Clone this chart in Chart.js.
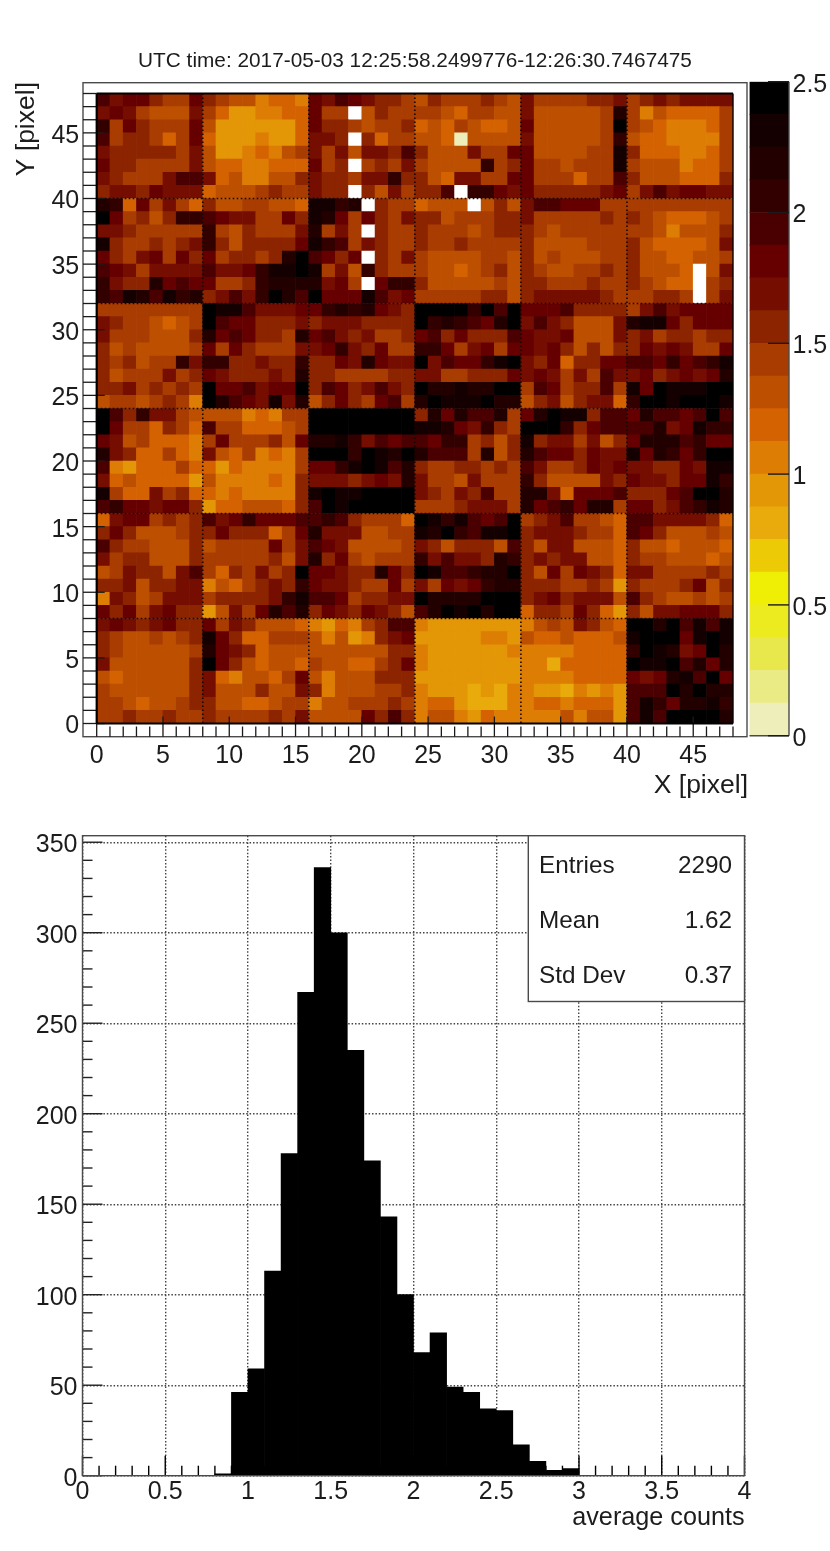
<!DOCTYPE html>
<html>
<head>
<meta charset="utf-8">
<title>Average counts map</title>
<script src="https://cdn.jsdelivr.net/npm/chart.js@4/dist/chart.umd.min.js"></script>
<style>
  html, body { margin: 0; padding: 0; background: #fff; }
  #page { position: relative; width: 830px; height: 1551px; overflow: hidden; filter: blur(0.45px); }
  canvas { position: absolute; left: 0; }
</style>
</head>
<body>
<div id="page">
  <canvas id="heat" width="830" height="812" style="top:0"></canvas>
  <canvas id="bar" width="830" height="812" style="top:0"></canvas>
  <canvas id="hist" width="830" height="761" style="top:790px"></canvas>
</div>
<script>
const titleText = "UTC time: 2017-05-03 12:25:58.2499776-12:26:30.7467475";

// map values, top row (Y = 47) first, one list per row; null = white cell
const mapRows = [
  [1.9,1.7,1.8,1.8,1.6,1.4,1.4,1.8, 1.6,1.4,1.3,1.3,1.1,1.2,1.2,1.1, 1.8,1.7,1.9,1.8,1.7,1.6,1.6,1.4, 1.3,1.6,1.4,1.4,1.4,1.6,1.4,1.3, 1.7,1.4,1.4,1.4,1.4,1.6,1.6,1.7, 1.4,1.6,1.7,1.6,1.7,1.7,1.7,1.7],
  [1.7,1.8,1.7,1.4,1.3,1.3,1.3,1.7, 1.4,1.2,0.9,0.9,1.1,1.1,1.2,1.2, 1.8,1.4,1.4,null,1.3,1.6,1.4,1.4, 1.4,1.4,1.3,1.2,1.4,1.4,1.3,1.3, 1.7,1.3,1.3,1.3,1.3,1.3,1.4,2.2, 1.4,1.1,1.3,1.2,1.2,1.2,1.2,1.4],
  [2.1,1.4,1.8,1.6,1.4,1.4,1.4,1.8, 1.3,0.9,0.9,0.9,0.9,0.9,0.9,1.2, 1.8,1.6,1.6,1.4,1.3,1.4,1.4,1.6, 1.2,1.3,1.2,1.4,1.3,1.2,1.2,1.3, 1.8,1.3,1.3,1.3,1.3,1.3,1.4,2.4, 1.4,1.3,1.2,1.1,1.1,1.1,1.2,1.4],
  [1.9,1.4,1.6,1.6,1.4,1.2,1.4,1.8, 1.2,0.9,0.9,0.9,1.1,0.9,0.9,1.2, 1.7,1.7,1.6,null,1.6,1.2,1.4,1.4, 1.3,1.3,1.2,0.1,1.3,1.3,1.3,1.3, 1.7,1.3,1.3,1.3,1.3,1.3,1.4,2.1, 1.3,1.2,1.2,1.1,1.1,1.1,1.1,1.4],
  [1.7,1.6,1.6,1.6,1.6,1.6,1.4,1.7, 1.3,0.9,0.9,1.1,1.2,1.1,1.3,1.4, 1.7,1.4,1.7,1.3,1.7,1.7,1.6,1.9, 1.6,1.3,1.3,1.3,1.7,1.4,1.4,1.8, 1.8,1.3,1.3,1.3,1.3,1.4,1.4,2.3, 1.6,1.2,1.2,1.2,1.1,1.1,1.2,1.4],
  [1.8,1.6,1.6,1.4,1.4,1.4,1.4,1.7, 1.3,1.2,1.2,1.1,1.1,1.2,1.2,1.2, 1.8,1.4,1.6,null,1.4,1.6,1.4,1.7, 1.4,1.3,1.3,1.3,1.3,2.1,1.4,1.6, 1.8,1.4,1.4,1.3,1.4,1.4,1.4,2.3, 1.4,1.3,1.3,1.3,1.1,1.2,1.2,1.4],
  [1.7,1.6,1.4,1.4,1.4,1.7,1.9,1.9, 1.7,1.2,1.3,1.1,1.1,1.3,1.3,1.6, 1.7,1.6,1.6,1.4,1.7,1.7,2.1,1.6, 1.6,1.3,1.2,1.7,1.7,1.4,1.4,1.8, 1.8,1.4,1.4,1.4,1.2,1.4,1.4,1.9, 1.6,1.3,1.3,1.3,1.2,1.2,1.2,1.6],
  [1.6,1.7,1.7,1.6,1.8,1.7,1.7,1.7, 1.2,1.3,1.3,1.3,1.4,1.6,1.4,1.4, 1.7,1.6,1.6,null,1.6,1.3,1.7,1.4, 1.6,1.6,1.9,null,2.1,2.1,1.8,1.7, 1.8,1.6,1.6,1.6,1.6,1.6,1.7,1.8, 1.4,1.7,1.9,1.7,1.8,1.8,1.7,1.7],
  [2.2,2.1,1.2,1.8,1.4,1.7,1.4,1.2, 1.6,1.3,1.3,1.4,1.4,1.3,1.3,1.2, 2.3,2.3,2.1,2.2,null,1.6,1.4,1.4, 1.2,1.3,1.3,1.3,null,1.3,1.6,1.3, 1.7,1.9,1.9,1.8,1.8,1.8,1.4,1.4, 1.4,1.4,1.4,1.4,1.4,1.4,1.4,1.4],
  [2.4,1.8,1.4,1.6,1.3,1.6,2.1,2.1, 1.9,1.8,1.7,1.7,1.4,1.4,1.8,1.6, 2.3,2.2,1.8,1.4,1.8,1.6,1.4,1.7, 1.6,1.6,1.3,1.4,1.4,1.4,1.6,1.6, 1.7,1.4,1.4,1.4,1.4,1.4,1.6,1.4, 1.6,1.4,1.3,1.2,1.2,1.2,1.3,1.4],
  [1.7,1.7,1.6,1.4,1.4,1.4,1.4,1.4, 2.1,1.4,1.3,1.6,1.4,1.4,1.4,1.7, 2.2,1.4,1.7,1.4,null,1.6,1.4,1.4, 1.6,1.4,1.4,1.4,1.3,1.4,1.6,1.6, 1.6,1.4,1.3,1.4,1.4,1.4,1.4,1.4, 1.4,1.4,1.3,1.1,1.3,1.3,1.3,1.6],
  [2.3,1.6,1.4,1.4,1.6,1.4,1.6,1.7, 2.1,1.6,1.3,1.6,1.6,1.6,1.6,1.8, 2.3,2.1,1.9,1.4,1.7,1.6,1.4,1.4, 1.6,1.4,1.4,1.6,1.4,1.4,1.4,1.4, 1.6,1.3,1.3,1.3,1.3,1.4,1.4,1.4, 1.6,1.3,1.2,1.2,1.2,1.2,1.3,1.7],
  [1.8,1.6,1.4,1.7,1.8,1.4,1.8,1.6, 1.8,1.4,1.6,1.6,1.4,1.6,2.2,2.4, 1.9,1.8,1.6,1.8,null,1.6,1.4,1.7, 1.4,1.3,1.3,1.3,1.3,1.4,1.4,1.3, 1.6,1.3,1.4,1.3,1.3,1.3,1.4,1.4, 1.6,1.3,1.3,1.2,1.2,1.3,1.3,1.4],
  [1.9,1.8,1.7,1.4,1.7,1.7,1.7,1.7, 1.9,1.7,1.7,1.8,2.1,2.3,2.3,2.4, 2.3,1.4,1.7,1.3,2.1,1.6,1.4,1.4, 1.4,1.3,1.3,1.2,1.3,1.4,1.6,1.3, 1.6,1.4,1.3,1.3,1.4,1.4,1.6,1.4, 1.6,1.3,1.3,1.3,1.2,null,1.3,1.7],
  [2.1,1.7,1.6,1.6,2.2,1.8,1.9,1.8, 1.8,1.4,1.4,1.6,2.1,2.2,2.2,2.2, 2.2,1.7,1.8,1.4,null,1.8,2.1,2.1, 1.6,1.3,1.3,1.3,1.3,1.3,1.4,1.3, 1.6,1.6,1.4,1.4,1.4,1.6,1.4,1.4, 1.6,1.4,1.3,1.2,1.2,null,1.4,1.6],
  [2.1,1.9,2.3,2.2,1.9,2.3,2.1,2.2, 1.6,1.7,1.9,1.7,2.1,2.4,2.2,1.9, 2.4,1.8,1.8,1.8,2.3,1.9,1.7,1.8, 1.4,1.4,1.4,1.4,1.4,1.6,1.6,1.3, 1.6,1.7,1.7,1.7,1.7,1.7,1.6,1.4, 1.4,1.4,1.6,1.6,1.4,null,1.4,1.7],
  [1.4,1.4,1.4,1.4,1.4,1.4,1.4,1.4, 2.4,2.3,2.3,1.9,1.7,1.7,1.7,1.8, 1.8,2.1,2.2,2.1,2.2,1.8,1.7,1.6, 2.4,2.4,2.4,2.4,2.1,2.4,1.9,2.4, 1.8,1.8,1.8,1.9,1.6,1.6,1.6,1.6, 1.4,1.7,1.9,1.7,1.8,1.8,1.8,1.8],
  [1.7,1.6,1.4,1.4,1.3,1.2,1.3,1.4, 2.4,1.9,1.8,1.8,1.6,1.6,1.6,1.7, 1.6,1.7,1.7,1.7,1.6,1.6,1.6,1.6, 2.4,2.1,2.2,2.1,1.9,1.8,2.2,2.4, 1.7,1.9,1.7,1.6,1.3,1.3,1.3,1.7, 2.2,2.3,2.3,1.8,1.6,1.8,1.8,1.8],
  [1.7,1.4,1.4,1.4,1.3,1.3,1.3,1.6, 2.2,1.8,1.9,1.8,1.6,1.6,1.4,2.2, 1.8,1.9,1.7,1.6,1.7,1.4,1.4,1.6, 1.8,1.9,1.6,1.8,1.6,1.6,1.6,1.9, 1.8,1.7,1.7,1.8,1.3,1.3,1.3,1.7, 1.6,1.7,1.4,1.6,1.6,1.4,1.6,1.6],
  [1.6,1.3,1.4,1.3,1.3,1.3,1.3,1.4, 1.8,1.4,1.8,1.6,1.4,1.4,1.4,1.7, 1.7,1.8,2.1,1.7,1.6,1.8,1.4,1.4, 2.1,2.1,1.8,1.4,1.7,1.8,1.4,1.8, 1.8,1.7,1.8,1.6,1.3,1.6,1.3,1.6, 1.6,1.8,1.7,1.8,1.7,1.4,1.4,1.8],
  [1.6,1.4,1.6,1.3,1.4,1.4,2.1,1.7, 2.1,2.1,1.6,1.6,1.7,1.6,1.6,2.1, 1.6,1.6,1.8,1.7,2.2,1.8,1.7,1.7, 2.4,1.7,1.9,1.8,1.8,2.1,2.3,2.4, 1.7,1.6,1.8,1.2,1.6,1.6,1.8,1.8, 1.9,1.9,1.8,2.1,1.8,1.9,2.1,2.3],
  [1.6,1.3,1.4,1.4,1.4,1.7,1.4,1.6, 1.8,1.7,1.6,1.6,1.6,1.7,1.6,2.2, 1.6,1.6,1.4,1.4,1.4,1.4,1.6,1.6, 1.7,1.7,1.4,1.4,1.6,1.6,1.6,1.8, 1.7,1.8,1.7,1.4,1.7,1.4,1.9,1.7, 1.7,1.8,1.6,1.7,1.8,1.7,1.8,2.2],
  [1.6,1.6,1.7,1.4,1.6,1.4,1.6,1.4, 2.4,1.8,1.8,1.9,1.7,1.8,1.8,2.4, 1.6,1.9,1.8,1.6,1.7,1.9,1.7,1.6, 2.4,2.2,2.2,2.3,2.2,2.2,2.4,2.4, 1.4,1.9,1.8,1.4,1.6,1.6,1.9,1.4, 2.3,1.8,2.4,2.3,2.3,2.3,2.4,2.4],
  [1.3,1.4,1.4,1.3,1.4,1.6,1.4,1.1, 2.4,2.2,1.9,1.8,1.7,2.3,1.7,2.2, 1.3,1.6,1.8,1.6,1.4,1.8,1.9,1.4, 2.2,2.4,2.3,2.3,2.3,2.4,2.2,2.2, 1.3,1.6,1.7,1.3,1.6,1.7,1.7,1.2, 2.1,2.4,2.4,2.3,2.4,2.4,2.4,2.3],
  [2.4,1.9,1.6,2.1,1.7,1.7,1.4,1.3, 1.3,1.3,1.3,1.1,1.2,1.1,1.4,1.4, 2.4,2.4,2.4,2.4,2.4,2.4,2.4,2.4, 1.6,2.2,1.8,2.2,1.9,1.9,2.2,1.4, 1.8,2.2,2.4,2.3,2.3,1.6,1.9,1.9, 1.8,2.2,1.9,1.9,1.8,1.9,2.4,1.9],
  [2.4,1.8,1.4,1.4,1.2,1.6,1.4,1.2, 1.9,1.4,1.4,1.2,1.2,1.2,1.3,1.4, 2.4,2.4,2.4,2.4,2.4,2.4,2.4,2.4, 2.3,2.3,2.2,1.8,1.7,2.1,1.6,1.4, 2.4,2.4,2.4,2.1,1.6,1.8,1.9,1.9, 1.9,1.9,2.2,1.7,1.8,2.3,2.1,2.1],
  [1.8,1.7,1.3,1.4,1.2,1.2,1.2,1.1, 1.4,1.8,1.4,1.4,1.4,1.6,1.3,1.8, 2.2,2.2,2.3,2.1,1.7,1.9,1.8,1.9, 1.9,1.8,2.1,2.1,1.4,1.6,1.3,1.6, 2.3,1.6,1.7,1.7,1.4,1.7,1.3,1.6, 1.8,2.2,2.2,2.2,1.9,2.1,1.8,1.8],
  [2.2,1.7,1.6,1.2,1.2,1.4,1.2,1.1, 1.7,1.3,1.2,1.4,1.1,1.2,1.1,1.4, 2.4,2.4,2.4,2.1,2.4,2.3,2.2,2.4, 2.2,1.9,1.9,1.9,1.4,2.2,1.3,1.6, 2.2,1.9,1.8,1.8,1.6,1.8,1.7,1.7, 2.3,1.8,2.2,2.1,1.8,2.1,2.4,2.4],
  [1.9,1.1,0.9,1.2,1.2,1.2,1.4,1.2, 1.2,0.9,1.2,1.1,1.1,1.1,1.1,1.4, 1.8,1.8,2.1,2.3,2.4,2.3,1.9,2.2, 1.6,1.4,1.4,1.6,1.6,1.4,1.6,1.4, 1.9,1.7,1.4,1.4,1.6,1.8,1.7,1.8, 1.7,1.7,1.6,1.6,1.8,1.7,2.3,2.3],
  [1.7,1.2,1.3,1.2,1.2,1.2,1.2,0.9, 1.3,1.1,1.1,1.1,1.1,1.2,1.1,1.6, 1.7,1.7,1.7,1.6,1.7,1.8,1.7,2.2, 1.7,1.4,1.4,1.3,1.7,1.4,1.4,1.4, 2.1,1.6,1.3,1.3,1.3,1.3,1.7,1.6, 1.8,1.7,1.7,1.6,1.8,1.8,2.3,2.1],
  [2.3,1.4,1.2,1.2,1.7,1.4,1.6,1.2, 1.2,1.1,1.2,1.1,1.1,1.1,1.1,1.6, 2.3,2.4,2.3,2.3,2.4,2.4,2.4,2.4, 1.7,1.6,1.4,1.7,1.6,1.9,1.4,1.4, 2.2,2.2,1.7,1.2,1.8,1.8,1.8,1.9, 1.6,1.6,1.6,1.8,1.9,2.4,2.4,2.2],
  [1.9,2.1,1.8,1.8,1.7,1.8,1.8,1.6, 0.9,1.2,1.2,1.3,1.3,1.3,1.2,1.6, 1.9,2.4,2.3,2.4,2.4,2.4,2.4,2.4, 1.4,1.4,1.4,1.6,1.7,1.7,1.7,1.4, 2.2,1.8,1.9,2.1,1.8,2.2,2.2,1.4, 1.8,1.8,1.6,1.7,1.9,2.1,2.3,2.2],
  [1.2,1.7,1.8,1.8,1.4,1.6,1.4,1.6, 1.9,1.7,1.8,2.1,1.8,1.8,1.8,1.9, 1.9,2.1,1.9,1.6,1.4,1.4,1.4,1.2, 2.4,2.3,2.1,2.3,1.9,1.8,1.9,2.4, 1.4,1.6,1.7,1.9,1.4,1.4,1.3,1.2, 1.9,1.9,1.7,1.7,1.7,1.7,1.6,1.2],
  [1.6,1.8,1.6,1.3,1.3,1.3,1.4,1.6, 1.6,1.8,1.6,1.6,1.6,1.2,1.4,1.8, 2.2,1.7,1.7,1.7,1.3,1.3,1.4,1.4, 2.3,2.2,2.4,2.1,1.9,2.3,2.3,2.4, 1.6,1.7,1.7,1.7,1.6,1.4,1.4,1.2, 1.9,1.8,1.6,1.3,1.3,1.3,1.4,1.3],
  [1.9,1.6,1.4,1.4,1.3,1.3,1.3,1.6, 1.3,1.4,1.4,1.4,1.4,1.8,1.4,1.7, 1.9,1.8,1.7,1.3,1.3,1.3,1.3,1.4, 1.7,1.6,1.3,1.6,1.6,1.6,1.3,1.9, 1.6,1.3,1.7,1.7,1.3,1.3,1.3,1.2, 1.6,1.3,1.3,1.2,1.3,1.3,1.3,1.2],
  [1.7,1.4,1.6,1.6,1.3,1.3,1.3,1.6, 1.4,1.4,1.4,1.4,1.4,1.6,1.3,1.7, 2.2,1.6,1.8,1.4,1.3,1.4,1.4,1.4, 2.1,1.7,1.9,1.7,1.7,1.6,2.2,2.1, 1.6,1.7,1.6,1.7,1.7,1.3,1.3,1.2, 1.6,1.4,1.4,1.3,1.3,1.3,1.2,1.3],
  [1.3,1.4,1.7,1.6,1.6,1.3,1.7,1.9, 1.4,1.2,1.6,1.4,1.7,1.4,1.6,2.4, 1.8,1.8,1.7,1.6,1.6,2.2,1.8,1.6, 2.4,2.3,1.9,1.9,2.1,2.2,2.2,2.4, 1.6,1.3,1.8,1.4,1.8,1.7,1.6,1.2, 1.7,1.7,1.4,1.4,1.4,1.4,1.6,1.4],
  [1.6,1.6,1.7,1.3,1.6,1.6,1.7,1.7, 1.1,1.3,1.2,1.4,1.6,1.7,1.6,2.1, 1.8,1.7,1.7,1.6,1.4,1.4,1.8,1.4, 1.7,1.4,1.8,1.7,1.8,2.1,2.2,2.2, 1.6,1.6,1.6,1.4,1.4,1.6,1.4,0.9, 1.6,1.4,1.4,1.4,1.6,1.8,1.3,1.6],
  [1.1,1.7,1.6,1.3,1.4,1.7,1.7,1.7, 1.4,1.6,1.6,1.6,1.6,1.7,2.1,2.3, 1.9,1.9,1.8,1.4,1.6,1.6,1.7,1.7, 2.4,2.2,2.2,2.2,2.2,2.4,2.4,2.4, 1.6,1.7,1.8,1.6,1.7,1.7,1.7,1.3, 1.9,1.6,1.4,1.3,1.3,1.4,1.3,1.4],
  [1.8,1.6,1.8,1.4,1.7,1.8,1.6,1.6, 0.9,1.3,1.7,1.4,1.8,2.2,1.9,2.2, 1.6,1.8,1.7,1.6,1.8,1.7,1.6,1.3, 1.9,2.2,2.4,2.3,2.4,2.2,2.4,2.4, 1.2,1.6,1.6,1.4,1.8,1.6,1.2,0.9, 1.6,1.3,1.7,1.7,1.8,1.8,1.8,1.6],
  [1.7,1.8,1.7,1.6,1.7,1.8,1.6,1.6, 1.8,1.4,1.7,1.6,1.3,1.3,1.3,1.2, 1.1,0.9,1.2,1.1,1.4,1.6,1.9,1.9, 1.1,0.9,0.9,0.9,0.9,0.9,0.9,0.9, 1.1,1.3,1.4,1.3,1.7,1.6,1.3,1.2, 2.4,2.4,2.2,2.4,1.9,2.3,1.9,2.3],
  [1.6,1.4,1.3,1.3,1.4,1.3,1.4,1.6, 2.3,1.8,1.6,1.2,1.2,1.4,1.4,1.4, 1.3,1.1,1.3,0.9,1.1,1.6,1.7,1.8, 0.9,0.9,0.9,0.9,0.9,1.1,1.1,0.9, 1.3,1.2,1.2,1.3,1.2,1.2,1.2,1.3, 2.3,2.4,2.4,2.4,1.8,2.3,2.4,2.3],
  [1.6,1.4,1.3,1.3,1.3,1.3,1.3,1.4, 2.2,1.8,1.7,1.6,1.2,1.3,1.3,1.3, 1.3,1.3,1.3,1.3,1.3,1.3,1.6,1.6, 1.1,0.9,0.9,0.9,0.9,0.9,0.9,1.1, 1.1,1.1,1.1,1.1,1.2,1.2,1.2,1.2, 2.1,2.4,2.3,2.2,1.7,1.8,2.4,2.2],
  [1.7,1.3,1.3,1.3,1.3,1.3,1.3,1.6, 2.4,1.8,1.6,1.3,1.2,1.3,1.3,1.2, 1.4,1.3,1.3,1.2,1.2,1.4,1.6,1.8, 1.1,0.9,0.9,0.9,0.9,0.9,0.9,0.9, 1.1,1.1,0.8,1.2,1.2,1.2,1.2,1.2, 2.4,2.3,2.3,2.4,1.9,2.2,1.8,2.2],
  [1.3,1.2,1.3,1.3,1.3,1.3,1.3,1.6, 1.7,1.2,1.1,1.3,1.3,1.2,1.4,1.8, 1.3,1.1,1.3,1.3,1.3,1.6,1.6,1.6, 0.9,0.9,0.9,0.9,0.9,0.9,0.9,0.9, 1.1,1.1,1.1,1.1,1.2,1.2,1.2,1.2, 1.8,1.7,1.8,2.2,2.3,1.9,2.4,1.8],
  [1.4,1.3,1.3,1.3,1.3,1.3,1.3,1.6, 1.7,1.3,1.3,1.3,1.6,1.3,1.3,1.7, 1.6,1.1,1.3,1.3,1.3,1.4,1.4,1.6, 1.1,0.9,0.9,0.9,0.8,0.9,0.8,1.1, 1.1,0.9,0.9,0.8,1.1,0.9,1.1,0.9, 1.9,1.9,1.9,2.4,2.2,2.4,2.2,2.2],
  [1.4,1.4,1.3,1.2,1.3,1.3,1.4,1.6, 1.6,1.3,1.3,1.2,1.2,1.3,1.4,1.4, 1.1,1.3,1.3,1.4,1.4,1.4,1.6,1.4, 1.1,1.2,1.2,0.9,0.8,0.8,0.8,1.1, 1.1,1.2,1.2,1.1,1.2,1.2,1.2,0.9, 1.9,2.3,2.1,1.8,2.2,2.2,2.3,2.1],
  [1.4,1.4,1.6,1.4,1.4,1.6,1.4,1.4, 1.6,1.4,1.4,1.4,1.4,1.6,1.4,1.7, 1.3,1.3,1.3,1.3,1.8,1.6,1.9,1.6, 1.1,1.3,1.3,1.1,0.9,1.2,1.1,1.1, 1.1,1.1,1.1,1.3,1.1,1.3,1.3,0.9, 1.9,2.3,1.9,2.4,2.4,2.4,2.4,2.2]
];

const mapXTicks = [0, 5, 10, 15, 20, 25, 30, 35, 40, 45];
const mapYTicks = [0, 5, 10, 15, 20, 25, 30, 35, 40, 45];
const moduleEdges = [8, 16, 24, 32, 40];

// colour palette: one colour per z step, bottom of the bar first
const zEdges = [0, 0.125, 0.25, 0.375, 0.5, 0.625, 0.75, 0.875, 1, 1.125, 1.25, 1.375, 1.5, 1.625, 1.75, 1.875, 2, 2.125, 2.25, 2.375, 2.5];
const zColors = ["#eeeebb", "#ebeb85", "#e8e84c", "#ebeb20", "#efef06", "#ecca06", "#e9ab0c", "#e39606", "#dd7d04", "#d46200",
  "#bd5000", "#a93c00", "#8c2400", "#750e00", "#660000", "#4a0000", "#330000", "#220000", "#140000", "#000000"];
const zTicks = [0, 0.5, 1, 1.5, 2, 2.5];

// histogram, bins 0.1 wide
const histCentres = [0.85, 0.95, 1.05, 1.15, 1.25, 1.35, 1.45, 1.55, 1.65, 1.75, 1.85, 1.95, 2.05, 2.15, 2.25, 2.35, 2.45, 2.55, 2.65, 2.75, 2.85, 2.95];
const histCounts = [1, 46, 59, 113, 178, 267, 336, 300, 235, 174, 143, 100, 68, 79, 49, 46, 37, 36, 17, 8, 3, 4];
const histXTicks = [0, 0.5, 1, 1.5, 2, 2.5, 3, 3.5, 4];
const histYTicks = [0, 50, 100, 150, 200, 250, 300, 350];
const statLabels = ["Entries", "Mean", "Std Dev"];
const statValues = ["2290", "1.62", "0.37"];

const FONT = "'Liberation Sans', Arial, sans-serif";
const INK = "#1c1c1c";
const FRAME = "#4a4a4a";

Chart.defaults.font.family = FONT;
Chart.defaults.color = INK;
Chart.defaults.animation = false;
Chart.defaults.events = [];
Chart.defaults.plugins.legend.display = false;
Chart.defaults.plugins.tooltip.enabled = false;

function line(ctx, x0, y0, x1, y1) {
  ctx.beginPath();
  ctx.moveTo(x0, y0);
  ctx.lineTo(x1, y1);
  ctx.stroke();
}

function setTicks(list) {
  return function (scale) {
    scale.ticks = list.map(v => ({ value: v }));
  };
}

function colorFor(v) {
  if (v === null) return "#ffffff";
  return zColors[Math.min(Math.floor(v / 0.125), zColors.length - 1)];
}

const cells = [];
const cellColors = [];
mapRows.forEach((row, r) => {
  const yLow = mapRows.length - 1 - r;
  row.forEach((v, c) => {
    cells.push({ x: c + 0.5, y: [yLow, yLow + 1] });
    cellColors.push(colorFor(v));
  });
});

const mapDecor = {
  id: "mapDecor",
  afterDatasetsDraw(chart) {
    const ctx = chart.ctx;
    const a = chart.chartArea;
    const sx = chart.scales.x;
    const sy = chart.scales.y;
    ctx.save();

    // dotted module edges
    ctx.strokeStyle = "#1a0500";
    ctx.lineWidth = 1.6;
    ctx.setLineDash([1.6, 2.4]);
    moduleEdges.forEach(v => {
      line(ctx, sx.getPixelForValue(v), a.top, sx.getPixelForValue(v), a.bottom);
      line(ctx, a.left, sy.getPixelForValue(v), a.right, sy.getPixelForValue(v));
    });
    ctx.setLineDash([]);

    // outer pad frame
    ctx.strokeStyle = FRAME;
    ctx.lineWidth = 1.4;
    ctx.strokeRect(83, 82.7, 664, 654);

    // ticks on every pixel, longer on the labelled ones
    ctx.strokeStyle = "#1a1a1a";
    ctx.lineWidth = 1.3;
    for (let v = 0; v <= 48; v++) {
      const px = sx.getPixelForValue(v);
      const py = sy.getPixelForValue(v);
      line(ctx, px, mapXTicks.includes(v) ? a.bottom - 7 : a.bottom + 3, px, 736.7);
      line(ctx, 83, py, mapYTicks.includes(v) ? a.left + 8 : a.left, py);
    }

    // heavy plot border
    ctx.strokeStyle = "#000";
    ctx.lineWidth = 2.2;
    line(ctx, a.left, a.top, a.right, a.top);
    line(ctx, a.left, a.top, a.left, a.bottom);
    line(ctx, a.left, a.bottom, a.right, a.bottom);
    ctx.lineWidth = 1.4;
    line(ctx, a.right, a.top, a.right, a.bottom);

    // title and axis titles
    ctx.fillStyle = INK;
    ctx.font = "20.8px " + FONT;
    ctx.textAlign = "center";
    ctx.textBaseline = "alphabetic";
    ctx.fillText(titleText, 415, 67);
    ctx.font = "26.5px " + FONT;
    ctx.textAlign = "right";
    ctx.fillText("X [pixel]", 748, 793);
    ctx.translate(34, 82);
    ctx.rotate(-Math.PI / 2);
    ctx.fillText("Y [pixel]", 0, 0);
    ctx.restore();
  }
};

new Chart(document.getElementById("heat"), {
  type: "bar",
  data: {
    datasets: [{
      data: cells,
      backgroundColor: cellColors,
      borderWidth: 0,
      barPercentage: 1,
      categoryPercentage: 1
    }]
  },
  options: {
    responsive: false,
    layout: { padding: { top: 93.5, right: 97, bottom: 0, left: 0 } },
    scales: {
      x: {
        type: "linear",
        offset: false,
        min: 0,
        max: 48,
        grid: { display: false, drawTicks: false },
        border: { display: false },
        afterBuildTicks: setTicks(mapXTicks),
        afterFit(scale) { scale.height = 812 - 723.5; },
        ticks: { autoSkip: false, maxRotation: 0, padding: 18, font: { size: 25 }, callback: v => String(v) }
      },
      y: {
        min: 0,
        max: 48,
        grid: { display: false, drawTicks: false },
        border: { display: false },
        afterBuildTicks: setTicks(mapYTicks),
        afterFit(scale) { scale.width = 96.7; },
        ticks: { autoSkip: false, padding: 17.5, labelOffset: 3, font: { size: 25 }, callback: v => String(v) }
      }
    }
  },
  plugins: [mapDecor]
});

const barDecor = {
  id: "barDecor",
  afterDatasetsDraw(chart) {
    const ctx = chart.ctx;
    const a = chart.chartArea;
    const sy = chart.scales.y;
    ctx.save();
    ctx.strokeStyle = FRAME;
    ctx.lineWidth = 1.4;
    line(ctx, a.right, a.top, a.right, a.bottom);
    line(ctx, a.left, a.bottom, a.right, a.bottom);
    ctx.strokeStyle = "#1a1a1a";
    zTicks.forEach(v => line(ctx, a.right - 21, sy.getPixelForValue(v), a.right, sy.getPixelForValue(v)));
    ctx.restore();
  }
};

new Chart(document.getElementById("bar"), {
  type: "bar",
  data: {
    labels: ["z"],
    datasets: zColors.map((c, i) => ({
      data: [[zEdges[i], zEdges[i + 1]]],
      backgroundColor: c,
      borderWidth: 0,
      grouped: false,
      barPercentage: 1,
      categoryPercentage: 1
    }))
  },
  options: {
    responsive: false,
    layout: { padding: { top: 81.7, right: 0, bottom: 76.3, left: 749.5 } },
    scales: {
      x: { display: false },
      y: {
        position: "right",
        min: 0,
        max: 2.5,
        grid: { display: false, drawTicks: false },
        border: { display: false },
        afterBuildTicks: setTicks(zTicks),
        afterFit(scale) { scale.width = 41; },
        ticks: { autoSkip: false, padding: 3.5, labelOffset: 3, font: { size: 25 }, callback: v => String(v) }
      }
    }
  },
  plugins: [barDecor]
});

const histDecor = {
  id: "histDecor",
  afterDatasetsDraw(chart) {
    const ctx = chart.ctx;
    const a = chart.chartArea;
    const sx = chart.scales.x;
    const sy = chart.scales.y;
    ctx.save();

    ctx.strokeStyle = "#000";
    ctx.lineWidth = 1.4;
    for (let i = 0; i <= 40; i++) {
      const px = sx.getPixelForValue(i / 10);
      line(ctx, px, a.bottom, px, a.bottom - (i % 5 === 0 ? 20 : 10));
    }
    ctx.strokeStyle = "#222";
    for (let i = 0; i <= 35; i++) {
      const py = sy.getPixelForValue(i * 10);
      line(ctx, a.left, py, a.left + (i % 5 === 0 ? 20 : 10), py);
    }

    ctx.strokeStyle = FRAME;
    ctx.lineWidth = 1.4;
    ctx.strokeRect(a.left, a.top, a.right - a.left, a.bottom - a.top);

    // stats box
    ctx.fillStyle = "#fff";
    ctx.fillRect(528.3, a.top, a.right - 528.3, 165.8);
    ctx.strokeRect(528.3, a.top, a.right - 528.3, 165.8);
    ctx.fillStyle = INK;
    ctx.font = "24.3px " + FONT;
    ctx.textBaseline = "alphabetic";
    statLabels.forEach((label, i) => {
      const y = a.top + 37 + i * 55;
      ctx.textAlign = "left";
      ctx.fillText(label, 539, y);
      ctx.textAlign = "right";
      ctx.fillText(statValues[i], 732, y);
    });

    ctx.font = "25.2px " + FONT;
    ctx.textAlign = "right";
    ctx.fillText("average counts", a.right, 735);
    ctx.restore();
  }
};

new Chart(document.getElementById("hist"), {
  type: "bar",
  data: {
    datasets: [{
      data: histCentres.map((x, i) => ({ x: x, y: histCounts[i] })),
      backgroundColor: "#000",
      borderWidth: 0,
      barPercentage: 1,
      categoryPercentage: 1
    }]
  },
  options: {
    responsive: false,
    layout: { padding: { top: 45.7, right: 85.5, bottom: 0, left: 0 } },
    scales: {
      x: {
        type: "linear",
        offset: false,
        min: 0,
        max: 4,
        grid: { color: "#444", lineWidth: 1.4, drawTicks: false, offset: false },
        border: { display: false, dash: [1.5, 1.9] },
        afterBuildTicks: setTicks(histXTicks),
        afterFit(scale) { scale.height = 761 - 685.7; },
        ticks: { autoSkip: false, maxRotation: 0, padding: 1, font: { size: 25 }, callback: v => String(v) }
      },
      y: {
        min: 0,
        max: 353.6,
        grid: { color: "#444", lineWidth: 1.4, drawTicks: false },
        border: { display: false, dash: [1.5, 1.9] },
        afterBuildTicks: setTicks(histYTicks),
        afterFit(scale) { scale.width = 82.5; },
        ticks: { autoSkip: false, padding: 5, labelOffset: 3, font: { size: 25 }, callback: v => String(v) }
      }
    }
  },
  plugins: [histDecor]
});
</script>
</body>
</html>
